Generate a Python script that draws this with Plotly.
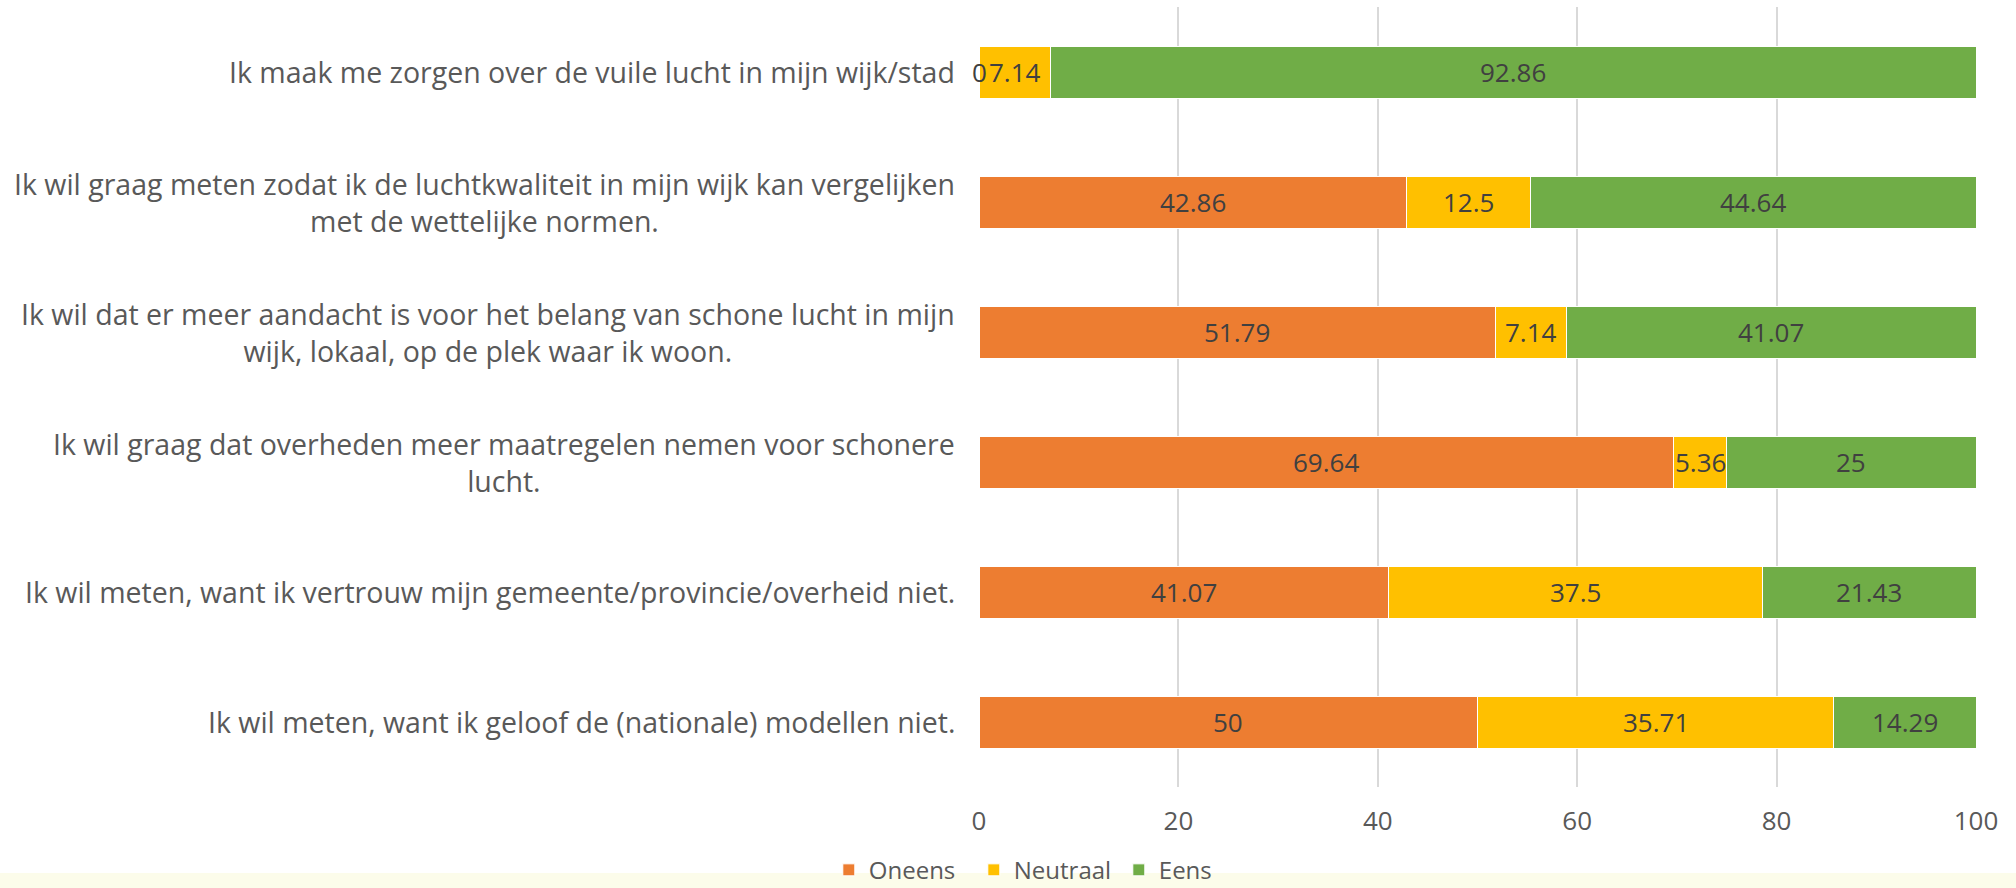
import plotly.graph_objects as go

categories = [
    "Ik maak me zorgen over de vuile lucht in mijn wijk/stad",
    "Ik wil graag meten zodat ik de luchtkwaliteit in mijn wijk kan vergelijken<br>met de wettelijke normen.",
    "Ik wil dat er meer aandacht is voor het belang van schone lucht in mijn<br>wijk, lokaal, op de plek waar ik woon.",
    "Ik wil graag dat overheden meer maatregelen nemen voor schonere<br>lucht.",
    "Ik wil meten, want ik vertrouw mijn gemeente/provincie/overheid niet.",
    "Ik wil meten, want ik geloof de (nationale) modellen niet.",
]
oneens = [0, 42.86, 51.79, 69.64, 41.07, 50]
neutraal = [7.14, 12.5, 7.14, 5.36, 37.5, 35.71]
eens = [92.86, 44.64, 41.07, 25, 21.43, 14.29]
series_names = ["Oneens", "Neutraal", "Eens"]
series_colors = ["#ED7D31", "#FFC000", "#70AD47"]
x_ticks = [0, 20, 40, 60, 80, 100]

FONT = "Open Sans"
fig = go.Figure()
series = [oneens, neutraal, eens]
for name, vals, col in zip(series_names, series, series_colors):
    fig.add_trace(go.Bar(
        y=categories, x=vals, name=name, orientation="h",
        marker=dict(color=col, line=dict(color="white", width=1)),
        hoverinfo="x+name",
    ))

annotations = []
base = [0.0] * len(categories)
for vals in series:
    for i, (cat, v) in enumerate(zip(categories, vals)):
        annotations.append(dict(
            x=base[i] + v / 2, y=cat, xref="x", yref="y",
            text=f"{v:g}", showarrow=False,
            font=dict(family=FONT, size=26, color="#404040"),
        ))
        base[i] += v

for cat in categories:
    annotations.append(dict(
        x=0, y=cat, xref="paper", yref="y", xanchor="right", yanchor="middle",
        xshift=-22, text=cat, showarrow=False, align="center",
        font=dict(family=FONT, size=28.5, color="#595959"),
    ))

fig.update_layout(
    barmode="stack",
    bargap=0.6,
    width=2016, height=888,
    margin=dict(l=979, r=40, t=7, b=101),
    paper_bgcolor="white", plot_bgcolor="white",
    font=dict(family=FONT, size=26, color="#595959"),
    showlegend=True,
    legend=dict(
        orientation="h", xref="container", x=0.519, xanchor="center",
        yref="container", y=0.02, yanchor="middle",
        font=dict(family=FONT, size=24, color="#595959"),
        itemwidth=30, traceorder="normal", bgcolor="rgba(0,0,0,0)",
        entrywidth=100,
    ),
    annotations=annotations,
    shapes=[dict(type="rect", xref="paper", yref="paper", x0=-2, x1=2,
                 y0=-0.1101, y1=-0.14, fillcolor="rgba(240,240,150,0.2)",
                 line=dict(width=0), layer="below")],
)
fig.update_xaxes(
    range=[0, 100], tickvals=x_ticks, showgrid=True, gridcolor="#D9D9D9",
    gridwidth=2, zeroline=False, showline=False,
    tickfont=dict(family=FONT, size=26, color="#595959"),
    ticklabelstandoff=16,
)
fig.update_yaxes(
    autorange="reversed", showticklabels=False, showgrid=False,
    zeroline=False, showline=False,
)

fig.write_html(
    "out.html",
    config={"displayModeBar": False},
    post_script="document.body.style.margin='0';document.body.style.overflow='hidden';",
)
